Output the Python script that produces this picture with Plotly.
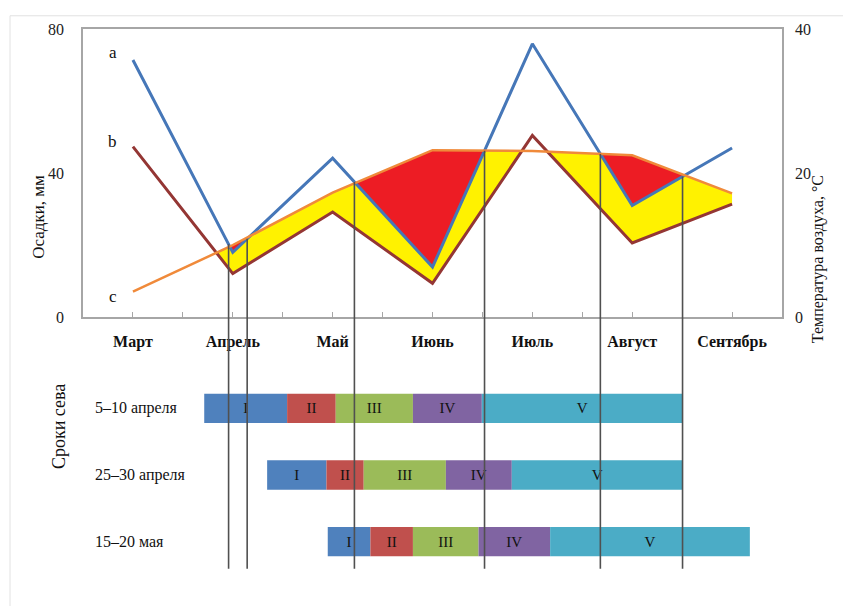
import numpy as np
import plotly.graph_objects as go

# ---- data -------------------------------------------------------------
months = ["Март", "Апрель", "Май", "Июнь", "Июль", "Август", "Сентябрь"]
precip_a = [71.5, 18.0, 44.2, 13.9, 76.0, 31.0, 47.0]   # осадки, мм (a)
precip_b = [47.4, 12.1, 29.2, 9.4, 50.5, 20.6, 31.4]    # осадки, мм (b)
temp_c = [3.55, 10.0, 17.3, 23.2, 23.1, 22.5, 17.2]     # температура, °C (c)

# dates (in month units from March) marked by vertical lines
phase_marks = [0.958, 1.144, 2.218, 3.521, 4.681, 5.504]

sowing_dates = ["5–10 апреля", "25–30 апреля", "15–20 мая"]
phase_names = ["I", "II", "III", "IV", "V"]
phase_start = [0.714, 1.344, 1.951]
phase_len = [
    [0.830, 0.487, 0.773, 0.690, 2.010],
    [0.594, 0.373, 0.823, 0.660, 1.710],
    [0.427, 0.426, 0.657, 0.717, 2.000],
]

# ---- styling ----------------------------------------------------------
W, H = 843, 606
FONT = "Liberation Serif"
phase_colors = ["#4F81BD", "#C0504D", "#9BBB59", "#8064A2", "#4BACC6"]
C_A, C_B, C_C = "#4677B8", "#943634", "#F08A3A"
C_YELLOW, C_RED = "#FFF200", "#ED1C24"


def px_x(p):
    return p / W


def px_y(p):
    return 1 - p / H


top_dom = [px_y(318), px_y(22)]
low_dom = [px_y(585), px_y(380)]
x_dom = [px_x(83), px_x(782)]

xs = list(range(len(months)))
temp_mm = [2 * t for t in temp_c]   # temperature on the precipitation scale (40 °C ↔ 80 mm)


def band_below(x, upper, lower):
    """Upper curve and min(lower, upper) with crossing points inserted."""
    X, U, L = [], [], []
    for i in range(len(x)):
        if i > 0:
            d0 = lower[i - 1] - upper[i - 1]
            d1 = lower[i] - upper[i]
            if d0 * d1 < 0:
                t = d0 / (d0 - d1)
                xc = x[i - 1] + t * (x[i] - x[i - 1])
                uc = upper[i - 1] + t * (upper[i] - upper[i - 1])
                X.append(xc); U.append(uc); L.append(uc)
        X.append(x[i]); U.append(upper[i]); L.append(min(lower[i], upper[i]))
    return X, U, L


fig = go.Figure()

# deficit bands: yellow against curve b, red against curve a
for lower, col in ((precip_b, C_YELLOW), (precip_a, C_RED)):
    X, U, L = band_below(xs, temp_mm, lower)
    fig.add_trace(go.Scatter(x=X, y=U, mode="lines", line=dict(width=0),
                             hoverinfo="skip", showlegend=False))
    fig.add_trace(go.Scatter(x=X, y=L, mode="lines", line=dict(width=0),
                             fill="tonexty", fillcolor=col,
                             hoverinfo="skip", showlegend=False))

fig.add_trace(go.Scatter(x=xs, y=precip_b, mode="lines",
                         line=dict(color=C_B, width=3), showlegend=False))
fig.add_trace(go.Scatter(x=xs, y=precip_a, mode="lines",
                         line=dict(color=C_A, width=3), showlegend=False))
fig.add_trace(go.Scatter(x=xs, y=temp_c, mode="lines", yaxis="y2",
                         line=dict(color=C_C, width=2.5), showlegend=False))

# sowing-date phase bars
for k, name in enumerate(phase_names):
    bases, lens = [], []
    for r in range(len(sowing_dates)):
        bases.append(phase_start[r] + sum(phase_len[r][:k]))
        lens.append(phase_len[r][k])
    fig.add_trace(go.Bar(
        x=lens, base=bases, y=list(range(len(sowing_dates))), orientation="h",
        xaxis="x3", yaxis="y3", width=0.44,
        marker=dict(color=phase_colors[k], line=dict(width=0)),
        text=[name] * len(sowing_dates), textposition="inside",
        insidetextanchor="middle", textangle=0,
        textfont=dict(family=FONT, size=15, color="#111111"),
        showlegend=False, hoverinfo="skip"))

# vertical marker lines from curve a down through the phase bars
shapes = []
for m in phase_marks:
    top_val = float(np.interp(m, xs, precip_a))
    y_top = top_dom[0] + top_val / 80 * (top_dom[1] - top_dom[0])
    shapes.append(dict(type="line", xref="x", yref="paper", x0=m, x1=m,
                       y0=px_y(577), y1=y_top,
                       line=dict(color="#505050", width=1.6)))
# light outer frame
shapes.append(dict(type="rect", xref="paper", yref="paper",
                   x0=px_x(10), x1=1.05, y0=-0.05, y1=px_y(8),
                   line=dict(color="#E2E2E2", width=1), layer="below"))

tick_pos = [i * 0.5 for i in range(13)]
tick_txt = [months[int(p)] if p == int(p) else "" for p in tick_pos]

annotations = [
    dict(text="Осадки, мм", xref="paper", yref="paper", x=px_x(27), y=px_y(170),
         textangle=-90, showarrow=False, font=dict(family=FONT, size=17, color="#111")),
    dict(text="Температура воздуха, °C", xref="paper", yref="paper",
         x=px_x(829), y=px_y(170), textangle=-90, showarrow=False,
         font=dict(family=FONT, size=16, color="#111")),
    dict(text="Сроки сева", xref="paper", yref="paper", x=px_x(47), y=px_y(477),
         textangle=-90, showarrow=False, font=dict(family=FONT, size=18, color="#111")),
]
for lbl, yv in (("a", 73.5), ("b", 48.9), ("c", 5.7)):
    annotations.append(dict(text=lbl, xref="x", yref="y", x=-0.2, y=yv,
                            showarrow=False,
                            font=dict(family=FONT, size=17, color="#111")))
for r, d in enumerate(sowing_dates):
    annotations.append(dict(text=d, xref="paper", yref="y3", x=px_x(93), y=r,
                            xanchor="left", showarrow=False,
                            font=dict(family=FONT, size=16, color="#111")))

axis_line = dict(showline=True, mirror=True, linecolor="#A6A6A6", linewidth=1.5,
                 showgrid=False, zeroline=False)

fig.update_layout(
    width=W, height=H, margin=dict(l=0, r=0, t=0, b=0),
    paper_bgcolor="white", plot_bgcolor="rgba(0,0,0,0)",
    barmode="overlay", showlegend=False,
    font=dict(family=FONT, color="#111"),
    xaxis=dict(domain=x_dom, range=[-0.5, 6.5], anchor="y",
               tickvals=tick_pos, ticktext=tick_txt, ticks="inside", ticklen=5,
               tickcolor="#A6A6A6", tickwidth=1,
               tickfont=dict(family=FONT, size=16, color="#111", weight="bold"),
               ticklabelstandoff=9, **axis_line),
    yaxis=dict(domain=top_dom, range=[0, 80], tickvals=[0, 40, 80],
               ticks="", tickfont=dict(family=FONT, size=16, color="#222"),
               ticklabelstandoff=14, **axis_line),
    yaxis2=dict(overlaying="y", side="right", range=[0, 40], tickvals=[0, 20, 40],
                ticks="", showgrid=False, zeroline=False, showline=False,
                tickfont=dict(family=FONT, size=16, color="#222"),
                ticklabelstandoff=12),
    xaxis3=dict(domain=x_dom, anchor="y3", matches="x", visible=False),
    yaxis3=dict(domain=low_dom, range=[2.526, -0.467], visible=False),
    shapes=shapes, annotations=annotations,
)

fig.write_html("out.html")
